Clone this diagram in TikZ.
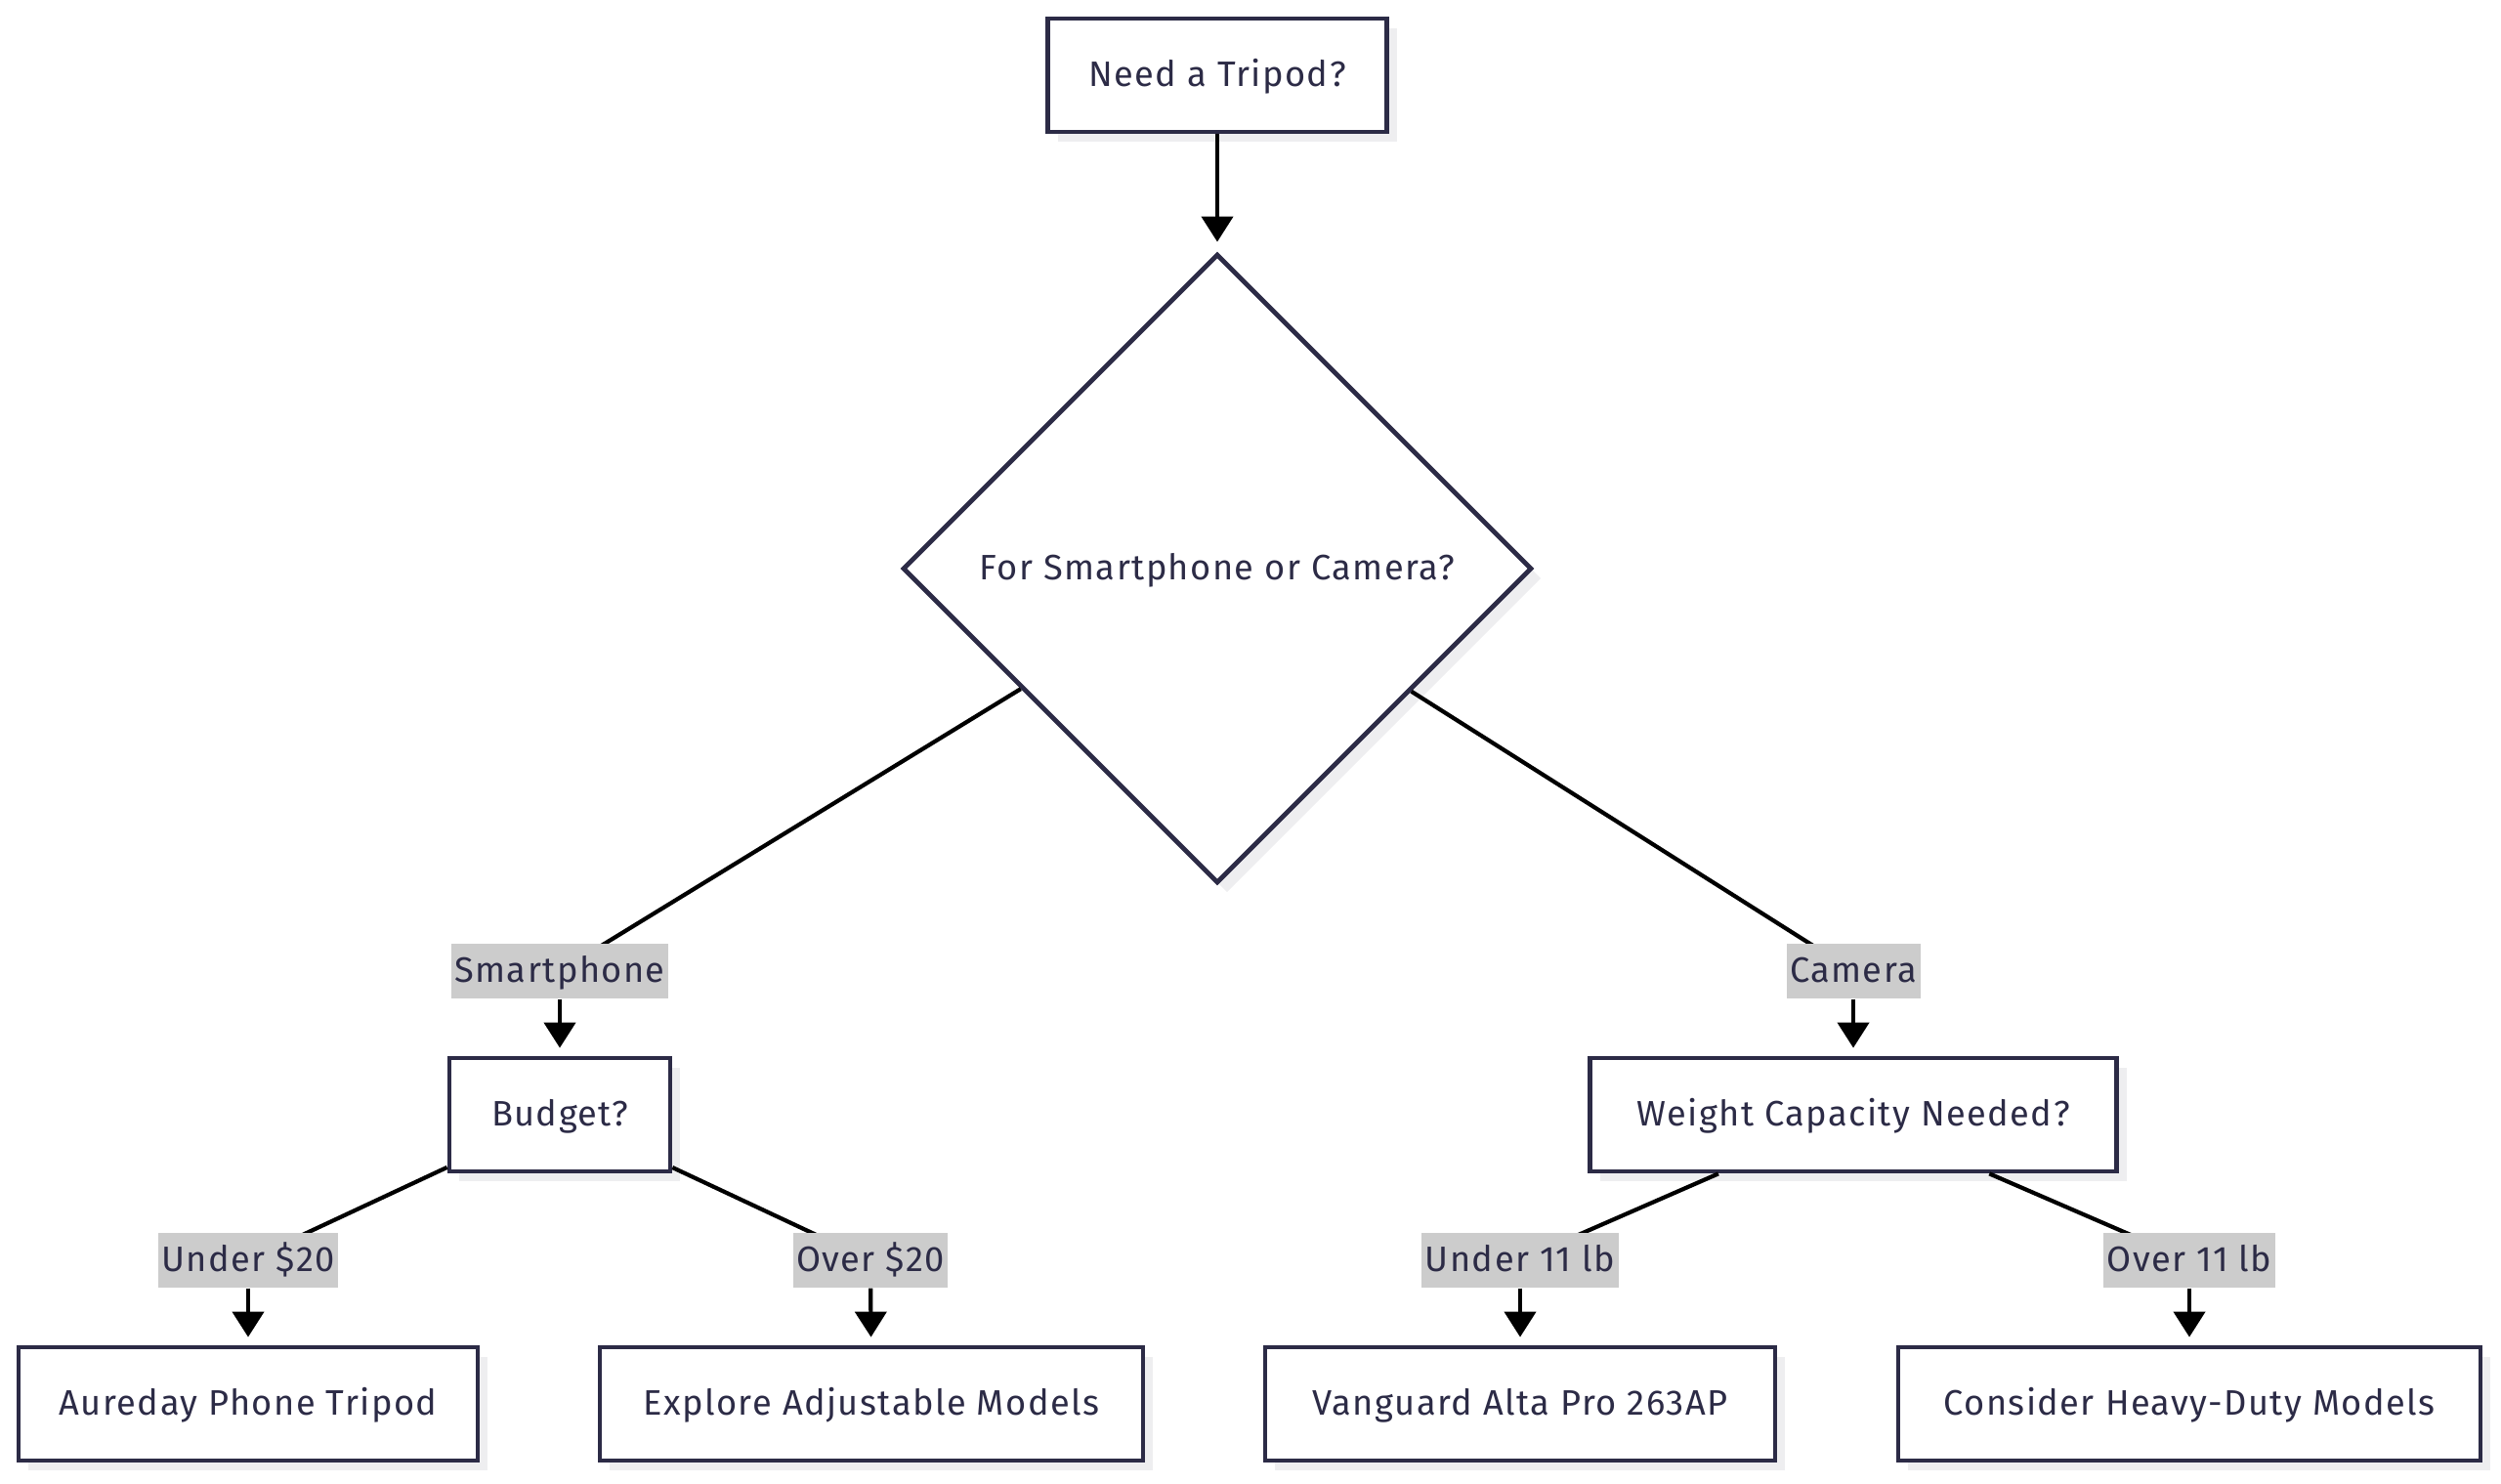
\documentclass[tikz,border=0pt]{standalone}
\usepackage{fontspec}
\setmainfont{Fira Sans}[LetterSpace=4]
\usetikzlibrary{shapes.geometric,arrows.meta,shadows}
\definecolor{navy}{RGB}{44,43,70}
\definecolor{lblbg}{RGB}{204,204,204}
\definecolor{shade}{RGB}{238,238,240}
\tikzset{
  txt/.style={text=navy, font=\fontsize{10.3}{12}\selectfont, text height=0.8em, text depth=0.12em},
  base/.style={txt, draw=navy, line width=1.35pt, fill=white,
    drop shadow={shadow xshift=0.1cm, shadow yshift=-0.1cm, fill=shade, opacity=1}},
  box/.style={base, rectangle, minimum height=1.16cm, inner sep=0pt},
  dec/.style={base, diamond, aspect=1, minimum width=6.44cm, minimum height=6.44cm, inner sep=0pt},
  lbl/.style={txt, fill=lblbg, minimum height=0.56cm, inner xsep=1pt, inner ysep=0pt},
  conn/.style={draw=black, line width=1.2pt},
  arr/.style={conn, -{Triangle[width=0.32cm,length=0.26cm]}, shorten >=0.08cm}
}
\begin{document}
\begin{tikzpicture}
\useasboundingbox (0,0) rectangle (25.6,-15.19);

\node[box, minimum width=3.47cm] (top) at (12.46,-0.77) {Need a Tripod?};
\node[dec] (d) at (12.46,-5.82) {For Smartphone or Camera?};
\node[box, minimum width=2.26cm] (budget) at (5.73,-11.41) {Budget?};
\node[box, minimum width=5.39cm] (weight) at (18.97,-11.41) {Weight Capacity Needed?};
\node[box, minimum width=4.70cm] (aur) at (2.54,-14.37) {Aureday Phone Tripod};
\node[box, minimum width=5.56cm] (exp) at (8.92,-14.37) {Explore Adjustable Models};
\node[box, minimum width=5.22cm] (van) at (15.56,-14.37) {Vanguard Alta Pro 263AP};
\node[box, minimum width=5.96cm] (con) at (22.41,-14.37) {Consider Heavy-Duty Models};

\coordinate (csm) at (5.73,-9.94);
\coordinate (ccam) at (18.97,-9.94);
\coordinate (cu20) at (2.54,-12.90);
\coordinate (co20) at (8.91,-12.90);
\coordinate (cu11) at (15.56,-12.90);
\coordinate (co11) at (22.41,-12.90);

\draw[arr, shorten >=0.1cm] (top) -- (d);
\draw[conn] (d) -- (csm);
\draw[conn] (d) -- (ccam);
\draw[conn] (budget) -- (cu20);
\draw[conn] (budget) -- (co20);
\draw[conn] (weight) -- (cu11);
\draw[conn] (weight) -- (co11);

\node[lbl] (lsm) at (csm) {Smartphone};
\node[lbl] (lcam) at (ccam) {Camera};
\node[lbl] (lu20) at (cu20) {Under \$20};
\node[lbl] (lo20) at (co20) {Over \$20};
\node[lbl] (lu11) at (cu11) {Under 11 lb};
\node[lbl] (lo11) at (co11) {Over 11 lb};

\draw[arr] (lsm) -- (budget);
\draw[arr] (lcam) -- (weight);
\draw[arr] (lu20) -- (aur);
\draw[arr] (lo20) -- (exp);
\draw[arr] (lu11) -- (van);
\draw[arr] (lo11) -- (con);
\end{tikzpicture}
\end{document}
